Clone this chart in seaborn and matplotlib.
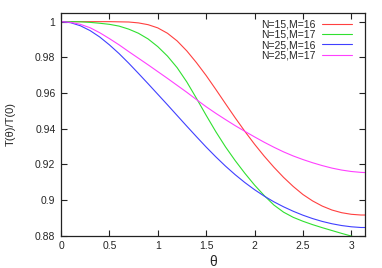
import numpy as np
import pandas as pd
import matplotlib
matplotlib.use('Agg')
import matplotlib.pyplot as plt
import seaborn as sns

# values every 0.1 in theta, last point at pi
theta = [0.0, 0.1, 0.2, 0.3, 0.4, 0.5, 0.6, 0.7, 0.8, 0.9,
         1.0, 1.1, 1.2, 1.3, 1.4, 1.5, 1.6, 1.7, 1.8, 1.9,
         2.0, 2.1, 2.2, 2.3, 2.4, 2.5, 2.6, 2.7, 2.8, 2.9,
         3.0, 3.1, np.pi]

n15_m16 = [1.0, 1.0, 1.0, 1.0, 1.0, 1.0, 0.9999, 0.9998, 0.9993, 0.9983,
           0.9965, 0.9935, 0.9892, 0.9836, 0.9770, 0.9698, 0.9620, 0.9540, 0.9461, 0.9385,
           0.9313, 0.9246, 0.9184, 0.9127, 0.9076, 0.9031, 0.8995, 0.8966, 0.8944, 0.8929,
           0.8920, 0.8916, 0.8916]
n15_m17 = [1.0, 1.0, 0.9999, 0.9996, 0.9991, 0.9985, 0.9975, 0.9958, 0.9935, 0.9903,
           0.9860, 0.9807, 0.9742, 0.9662, 0.9570, 0.9475, 0.9383, 0.9298, 0.9221, 0.9150,
           0.9084, 0.9025, 0.8972, 0.8932, 0.8903, 0.8881, 0.8862, 0.8845, 0.8829, 0.8813,
           0.8798, 0.8785, 0.8781]
n25_m16 = [1.0, 0.9994, 0.9977, 0.9950, 0.9914, 0.9870, 0.9821, 0.9767, 0.9710, 0.9652,
           0.9593, 0.9534, 0.9474, 0.9414, 0.9355, 0.9297, 0.9242, 0.9190, 0.9142, 0.9098,
           0.9058, 0.9022, 0.8990, 0.8962, 0.8937, 0.8915, 0.8896, 0.8880, 0.8867, 0.8857,
           0.8850, 0.8846, 0.8846]
n25_m17 = [1.0, 0.9996, 0.9985, 0.9966, 0.9938, 0.9905, 0.9870, 0.9832, 0.9795, 0.9758,
           0.9720, 0.9682, 0.9643, 0.9604, 0.9563, 0.9523, 0.9486, 0.9451, 0.9417, 0.9385,
           0.9354, 0.9324, 0.9296, 0.9270, 0.9247, 0.9227, 0.9209, 0.9193, 0.9179, 0.9168,
           0.9160, 0.9155, 0.9154]

labels = ['N=15,M=16', 'N=15,M=17', 'N=25,M=16', 'N=25,M=17']
colors = ['#ff4040', '#30e030', '#4040ff', '#ff40ff']
series = [n15_m16, n15_m17, n25_m16, n25_m17]

sns.set_style("ticks")
plt.rcParams['font.family'] = ['Liberation Sans', 'DejaVu Sans']

fig = plt.figure(figsize=(3.82, 2.68), dpi=100)
ax = fig.add_axes([0.1597, 0.1205, 0.7958, 0.832])

for lab, col, vals in zip(labels, colors, series):
    df = pd.DataFrame({'theta': theta, 'ratio': vals})
    sns.lineplot(data=df, x='theta', y='ratio', color=col, label=lab,
                 linewidth=0.8, ax=ax)

ax.set_xlim(0, np.pi)
ax.set_ylim(0.88, 1.005)
ax.set_xticks([0, 0.5, 1, 1.5, 2, 2.5, 3])
ax.set_xticklabels(['0', '0.5', '1', '1.5', '2', '2.5', '3'])
ax.set_yticks([0.88, 0.9, 0.92, 0.94, 0.96, 0.98, 1.0])
ax.set_yticklabels(['0.88', '0.9', '0.92', '0.94', '0.96', '0.98', '1'])
ax.tick_params(direction='in', length=4, width=0.8, labelsize=7.5,
               top=True, right=True, pad=4, color='#222222')

for sp in ax.spines.values():
    sp.set_linewidth(0.9)
    sp.set_color('#222222')

ax.set_xlabel('θ', fontsize=10)
ax.set_ylabel('T(θ)/T(0)', fontsize=8)
ax.xaxis.set_label_coords(0.499, -0.085)
ax.yaxis.set_label_coords(-0.148, 0.5)

ax.legend(loc='upper right', bbox_to_anchor=(0.958, 0.969), frameon=False,
          fontsize=7.5, markerfirst=False, handlelength=2.9, handletextpad=0.58,
          labelspacing=0.02, borderpad=0, borderaxespad=0)

plt.savefig('out.png', dpi=100)
